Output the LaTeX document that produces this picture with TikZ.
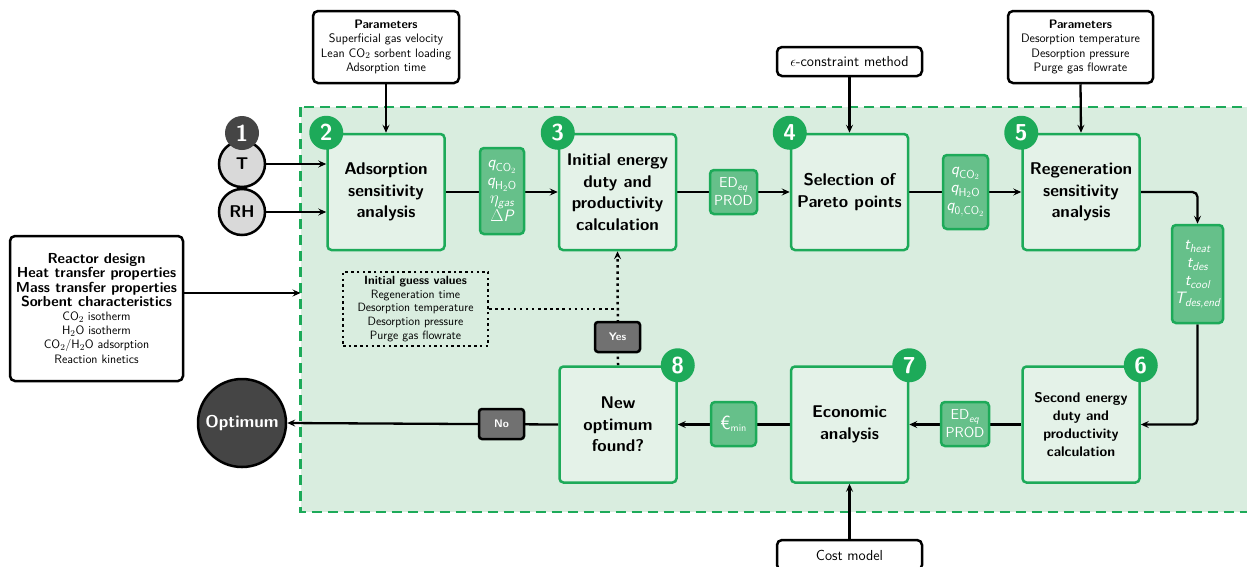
\documentclass[tikz,border=0pt]{standalone}
\usepackage{amsmath}
\usepackage{fontspec}
\usetikzlibrary{arrows.meta,calc}
\definecolor{regfill}{HTML}{D9EDDF}
\definecolor{gline}{HTML}{1DAA59}
\definecolor{gbox}{HTML}{E4F2E8}
\definecolor{gdata}{HTML}{66C08A}
\definecolor{dgray}{HTML}{454545}
\definecolor{mgray}{HTML}{717171}
\definecolor{lgray}{HTML}{D9D9D9}
\pgfdeclarelayer{bottom}
\pgfdeclarelayer{background}
\pgfsetlayers{bottom,background,main}
\newcommand{\rbold}[1]{{\bfseries\fontsize{14.5}{14.3}\selectfont #1}}
\newcommand{\vi}[2]{$\textit{#1}_{\textit{#2}}$}
\tikzset{
  stage/.style={draw=gline, fill=gbox, line width=2.5pt, rounded corners=4pt,
    minimum width=117pt, minimum height=116pt, align=center, inner sep=0pt,
    font=\sffamily\bfseries\fontsize{17}{21.5}\selectfont},
  stagesmall/.style={stage, font=\sffamily\bfseries\fontsize{14}{18}\selectfont},
  badge/.style={circle, fill=gline, text=white, minimum size=34pt, inner sep=0pt,
    font=\sffamily\bfseries\fontsize{23}{23}\selectfont},
  datab/.style={draw=gline, fill=gdata, line width=2.5pt, rounded corners=4pt,
    text=white, align=center, inner sep=0pt,
    font=\sffamily\fontsize{14.5}{18}\selectfont},
  mathb/.style={datab, font=\sffamily\fontsize{16.5}{18}\selectfont},
  parambox/.style={draw, fill=white, line width=2.5pt, rounded corners=5pt,
    align=center, inner sep=0pt, font=\sffamily\fontsize{12.3}{14.2}\selectfont},
  graybox/.style={draw, fill=mgray, line width=2.5pt, rounded corners=3pt,
    text=white, minimum width=45pt, minimum height=30pt, inner sep=0pt,
    font=\sffamily\bfseries\fontsize{11}{11}\selectfont},
  incirc/.style={circle, draw, fill=lgray, line width=2.5pt, minimum size=46pt,
    inner sep=0pt, font=\sffamily\bfseries\fontsize{17}{17}\selectfont},
  arr/.style={line width=2.3pt, -{Stealth[length=8pt,width=7pt,inset=3pt]}},
  dotline/.style={line width=2.5pt, dash pattern=on 2.5pt off 3.6pt},
}
\begin{document}
\begin{tikzpicture}[x=1pt,y=-1pt]
\useasboundingbox (0,0) rectangle (1247,566);
\clip (0,0) rectangle (1247,566);
% region
\begin{pgfonlayer}{bottom}
\draw[fill=regfill, draw=gline, line width=2.5pt, dash pattern=on 10pt off 6pt]
  (300.5,107) rectangle (1262,512);
\end{pgfonlayer}
% stages
\node[stage] (b2) at (386,192) {Adsorption\\sensitivity\\analysis};
\node[stage] (b3) at (617.5,192) {Initial energy\\duty and\\productivity\\calculation};
\node[stage] (b4) at (849.5,192) {Selection of\\Pareto points};
\node[stage] (b5) at (1081,192) {Regeneration\\sensitivity\\analysis};
\node[stagesmall] (b6) at (1081,424.5) {Second energy\\duty and\\productivity\\calculation};
\node[stage] (b7) at (849.5,424.5) {Economic\\analysis};
\node[stage] (b8) at (618,424.5) {New\\optimum\\found?};
% badges
\node[badge] (n2) at (b2.north west) {2};
\node[badge] (n3) at (b3.north west) {3};
\node[badge] (n4) at (b4.north west) {4};
\node[badge] (n5) at (b5.north west) {5};
\node[badge] (n6) at (b6.north east) {6};
\node[badge] (n7) at (b7.north east) {7};
\node[badge] (n8) at (b8.north east) {8};
% inputs
\node[incirc] (T) at (242,164) {T};
\node[incirc] (RH) at (242,212) {RH};
\node[badge, fill=dgray] (n1) at (242,133) {1};
% data boxes
\node[mathb, minimum width=44pt, minimum height=86pt] (d1) at (502,191)
  {$\textit{q}_{\mathsf{CO}_2}$\\$\textit{q}_{\mathsf{H_2O}}$\\$\eta_{\textit{gas}}$\\$\Delta \textit{P}$};
\node[datab, minimum width=47pt, minimum height=44pt] (d2) at (733.5,192)
  {ED\vi{}{eq}\\PROD};
\node[mathb, minimum width=45pt, minimum height=74pt] (d3) at (965.5,192)
  {$\textit{q}_{\mathsf{CO}_2}$\\$\textit{q}_{\mathsf{H_2O}}$\\$\textit{q}_{\mathsf{0,CO}_2}$};
\node[mathb, minimum width=51pt, minimum height=98pt] (d4) at (1197.5,274)
  {\vi{t}{heat}\\\vi{t}{des}\\\vi{t}{cool}\\\vi{T}{des,end}};
\node[datab, minimum width=48pt, minimum height=44pt] (d5) at (965,424)
  {ED\vi{}{eq}\\PROD};
\node[datab, minimum width=45pt, minimum height=44pt] (d6) at (733.5,424)
  {{\fontsize{19}{19}\selectfont €}$_{\mathsf{min}}$};
% gray
\node[graybox] (yes) at (617.5,337) {Yes};
\node[graybox] (no) at (501.5,424) {No};
\node[circle, draw, fill=dgray, line width=2.5pt, minimum size=88pt, inner sep=0pt,
  text=white, font=\sffamily\bfseries\fontsize{17}{17}\selectfont] (opt) at (242,423) {Optimum};
% parameter boxes
\node[parambox, minimum width=146pt, minimum height=72pt] (p1) at (386,47)
  {\textbf{Parameters}\\Superficial gas velocity\\Lean CO$_2$ sorbent loading\\Adsorption time};
\node[parambox, minimum width=145pt, minimum height=29pt, font=\sffamily\fontsize{14.5}{16}\selectfont] (eps) at (849.5,61.5)
  {$\epsilon$-constraint method};
\node[parambox, minimum width=145pt, minimum height=72pt] (p2) at (1080.5,47)
  {\textbf{Parameters}\\Desorption temperature\\Desorption pressure\\Purge gas flowrate};
\node[parambox, minimum width=145pt, minimum height=30pt, font=\sffamily\fontsize{14.5}{16}\selectfont] (cost) at (849.5,555)
  {Cost model};
\node[parambox, minimum width=173pt, minimum height=145pt, font=\sffamily\fontsize{12.2}{14.2}\selectfont] (reac) at (96.5,308.5)
  {\rbold{Reactor design}\\\rbold{Heat transfer properties}\\\rbold{Mass transfer properties}\\\rbold{Sorbent characteristics}\\
   CO$_2$ isotherm\\H$_2$O isotherm\\CO$_2$/H$_2$O adsorption\\Reaction kinetics};
\node[draw, line width=2.5pt, dash pattern=on 2.5pt off 3.2pt, minimum width=145pt, minimum height=74pt,
  align=center, inner sep=0pt, font=\sffamily\fontsize{12}{13.7}\selectfont] (init) at (415.5,309)
  {\textbf{Initial guess values}\\Regeneration time\\Desorption temperature\\Desorption pressure\\Purge gas flowrate};
\coordinate (rin) at (300.5,293);
\coordinate (join) at (b3.south |- init.east);
% connectors
\begin{pgfonlayer}{background}
\draw[arr] (T.east) -- (b2.west |- T);
\draw[arr] (RH.east) -- (b2.west |- RH);
\draw[arr] (p1.south) -- (b2.north);
\draw[arr] (eps.south) -- (b4.north);
\draw[arr] (p2.south) -- (b5.north);
\draw[arr] (cost.north) -- (b7.south);
\draw[arr] (reac.east |- rin) -- (rin);
\draw[arr] (b2.east) -- (b3.west);
\draw[arr] (b3.east) -- (b4.west);
\draw[arr] (b4.east) -- (b5.west);
\draw[arr, rounded corners=5pt] (b5.east) -| (d4.north);
\draw[arr, rounded corners=5pt] (d4.south) |- (b6.east);
\draw[arr] (b6.west) -- (b7.east);
\draw[arr] (b7.west) -- (b8.east);
\draw[arr] (b8.west) -- (opt.east);
\draw[dotline, -{Stealth[length=8pt,width=7pt,inset=3pt]}] (b8.north) -- (b3.south);
\draw[dotline] (init.east) -- (join);
\end{pgfonlayer}
\end{tikzpicture}
\end{document}
